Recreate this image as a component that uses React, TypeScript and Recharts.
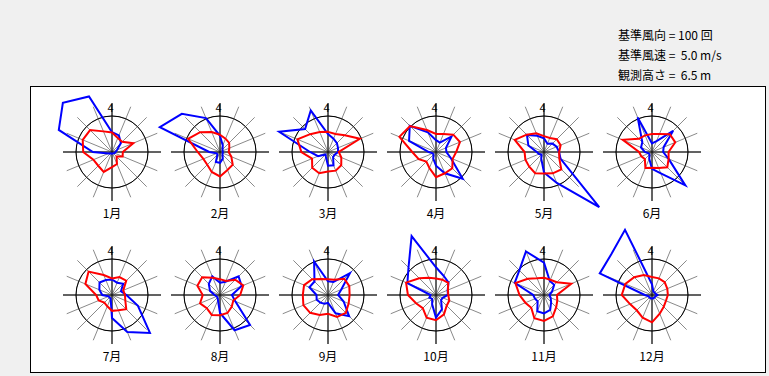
import React from 'react';
import { RadarChart, Radar, PolarGrid, PolarAngleAxis, PolarRadiusAxis } from 'recharts';

const directions = ['N', 'NNE', 'NE', 'ENE', 'E', 'ESE', 'SE', 'SSE', 'S', 'SSW', 'SW', 'WSW', 'W', 'WNW', 'NW', 'NNW'];
const months = ['1月', '2月', '3月', '4月', '5月', '6月', '7月', '8月', '9月', '10月', '11月', '12月'];

// frequency of wind direction (counts), 16 directions per month
const frequency = [
  [55, 50, 35, 15, 10, 8, 5, 5, 5, 5, 5, 10, 53, 160, 193, 167],
  [45, 20, 10, 8, 8, 8, 10, 20, 30, 30, 10, 10, 30, 181, 150, 102],
  [50, 40, 35, 30, 28, 20, 20, 40, 38, 15, 10, 30, 50, 147, 90, 125],
  [33, 28, 61, 30, 29, 45, 105, 64, 38, 20, 10, 10, 20, 81, 103, 59],
  [38, 25, 33, 38, 42, 50, 217, 93, 57, 20, 10, 15, 20, 47, 67, 49],
  [24, 33, 83, 35, 31, 50, 131, 64, 47, 20, 10, 10, 20, 33, 38, 104],
  [43, 37, 44, 27, 40, 78, 149, 111, 64, 10, 10, 10, 27, 38, 49, 45],
  [34, 40, 73, 65, 33, 46, 118, 106, 50, 15, 10, 10, 15, 30, 44, 56],
  [38, 39, 86, 40, 28, 47, 83, 55, 22, 26, 30, 34, 32, 56, 53, 101],
  [77, 57, 49, 35, 33, 20, 20, 43, 63, 28, 15, 20, 15, 86, 108, 177],
  [90, 42, 40, 24, 15, 20, 28, 45, 51, 49, 25, 27, 30, 88, 97, 131],
  [30, 10, 10, 10, 15, 10, 10, 10, 10, 10, 10, 10, 20, 157, 160, 196],
];

// mean wind speed (m/s), 16 directions per month
const speed = [
  [2.7, 2.1, 2.0, 3.2, 1.5, 1.6, 0.9, 1.8, 2.1, 3.0, 2.7, 2.8, 4.0, 4.4, 4.3, 3.1],
  [2.4, 2.0, 1.8, 1.4, 1.2, 1.7, 2.5, 2.7, 3.4, 3.0, 2.5, 2.5, 3.1, 4.8, 3.9, 3.0],
  [2.8, 2.7, 3.3, 4.8, 1.5, 2.0, 2.6, 2.8, 2.7, 3.2, 3.1, 2.4, 3.7, 4.6, 3.5, 3.0],
  [2.5, 2.7, 3.4, 3.6, 2.8, 2.5, 3.2, 3.2, 3.5, 2.4, 1.9, 2.6, 3.3, 5.5, 5.1, 3.3],
  [2.2, 2.1, 2.5, 2.5, 2.1, 2.3, 3.4, 3.2, 3.0, 3.2, 2.9, 2.8, 2.7, 4.4, 3.4, 2.8],
  [2.5, 2.7, 3.5, 3.5, 2.3, 2.5, 3.0, 2.4, 2.2, 2.4, 1.4, 1.6, 1.8, 4.4, 2.6, 2.5],
  [2.3, 2.7, 2.8, 1.7, 1.8, 2.0, 2.8, 2.3, 2.2, 1.7, 1.5, 2.0, 2.2, 4.0, 4.6, 3.0],
  [2.2, 2.1, 3.0, 3.5, 2.8, 2.0, 2.3, 2.7, 2.8, 3.0, 2.6, 3.0, 2.4, 3.4, 3.5, 2.6],
  [2.2, 2.3, 3.2, 3.2, 3.0, 3.1, 3.5, 3.3, 2.6, 3.0, 3.5, 3.7, 3.5, 3.6, 3.1, 2.4],
  [2.3, 2.3, 2.4, 1.8, 1.7, 2.0, 2.1, 2.9, 3.5, 3.4, 2.6, 3.0, 3.9, 4.5, 3.3, 2.6],
  [2.4, 2.3, 2.5, 4.1, 1.8, 2.0, 2.4, 3.2, 3.6, 3.5, 2.5, 2.8, 3.4, 4.3, 3.2, 2.5],
  [2.5, 2.5, 2.5, 2.3, 2.2, 2.1, 2.3, 2.8, 3.8, 3.4, 3.0, 3.3, 4.2, 4.0, 3.5, 3.0],
];

const headerLines = ['基準風向 = 100 回', '基準風速 =  5.0 m/s', '観測高さ =  6.5 m'];
const refFrequency = 100;
const refSpeed = 5.0;
const northLabel = '4';

const FONT = '"Noto Sans CJK JP", "DejaVu Sans", sans-serif';
const OUTER = 49;
const RING = 36;
const SIZE = 200;
const spokeAngles = directions.map((_, i) => 90 - i * 22.5);
const crossAngles = [90, 0, -90, 180];
const colX = [112, 220, 328, 436, 544, 652];
const rowY = [152, 295];

function NorthTick(props: any) {
  if (props.index !== 0) return <g />;
  return (
    <text x={props.x - 1.5} y={props.y + 17} textAnchor="middle" fontSize={11} fontFamily={FONT} fill="#000">
      {northLabel}
    </text>
  );
}

function Rose({ m }: { m: number }) {
  const data = directions.map((d, i) => ({ dir: d, freq: frequency[m][i], speed: speed[m][i] }));
  const cx = colX[m % 6];
  const cy = rowY[Math.floor(m / 6)];
  return (
    <div style={{ position: 'absolute', left: cx - SIZE / 2, top: cy - SIZE / 2, width: SIZE, height: SIZE }}>
      <RadarChart
        width={SIZE}
        height={SIZE}
        data={data}
        cx="50%"
        cy="50%"
        outerRadius={OUTER}
        margin={{ top: 0, right: 0, bottom: 0, left: 0 }}
        style={{ overflow: 'visible' }}
      >
        <PolarGrid gridType="circle" polarAngles={spokeAngles} polarRadius={[RING]} stroke="#8a8a8a" strokeWidth={1} />
        <PolarGrid gridType="circle" polarAngles={crossAngles} polarRadius={[RING]} stroke="#000" strokeWidth={1} />
        <PolarAngleAxis dataKey="dir" axisLine={false} tickLine={false} tick={NorthTick} />
        <PolarRadiusAxis
          domain={[0, (refFrequency * OUTER) / RING]}
          allowDataOverflow
          type="number"
          tick={false}
          axisLine={false}
        />
        <Radar
          dataKey="freq"
          stroke="#0000ff"
          strokeWidth={2}
          fill="none"
          fillOpacity={0}
          isAnimationActive={false}
        />
        <Radar
          dataKey={(d: any) => (d.speed * refFrequency) / refSpeed}
          stroke="#ff0000"
          strokeWidth={2}
          fill="none"
          fillOpacity={0}
          isAnimationActive={false}
        />
      </RadarChart>
    </div>
  );
}

export default function App() {
  return (
    <div
      style={{
        position: 'fixed',
        left: 0,
        top: 0,
        width: 769,
        height: 376,
        background: '#f0f0f0',
        fontFamily: FONT,
        overflow: 'hidden',
      }}
    >
      {headerLines.map((t, i) => (
        <div
          key={t}
          style={{
            position: 'absolute',
            left: 618,
            top: 27 + i * 20,
            fontSize: 12,
            lineHeight: '16px',
            whiteSpace: 'pre',
            color: '#000',
          }}
        >
          {t}
        </div>
      ))}
      <div
        style={{
          position: 'absolute',
          left: 30,
          top: 86,
          width: 734,
          height: 285,
          border: '1px solid #000',
          background: '#fff',
        }}
      />
      {months.map((mo, m) => (
        <Rose key={mo} m={m} />
      ))}
      {months.map((mo, m) => (
        <div
          key={'l' + mo}
          style={{
            position: 'absolute',
            left: colX[m % 6] - 30,
            top: rowY[Math.floor(m / 6)] + 53,
            width: 60,
            textAlign: 'center',
            fontSize: 12,
            lineHeight: '16px',
            color: '#000',
          }}
        >
          {mo}
        </div>
      ))}
    </div>
  );
}
